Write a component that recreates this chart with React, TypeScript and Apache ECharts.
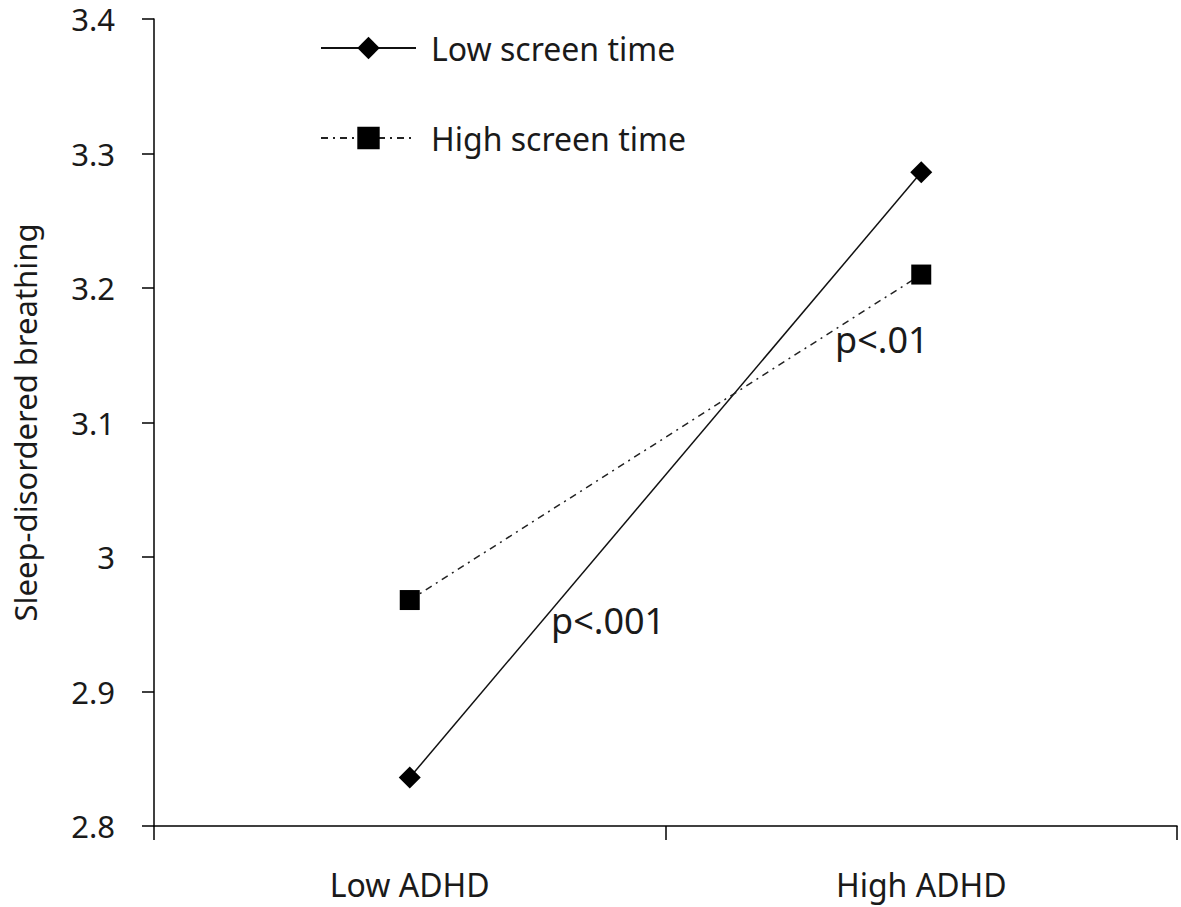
import React, { useEffect, useRef } from "react";
import * as echarts from "echarts";

const categories = ["Low ADHD", "High ADHD"];
const lowScreenTime = [2.836, 3.286];
const highScreenTime = [2.968, 3.21];
const seriesNames = ["Low screen time", "High screen time"];
const yAxisTitle = "Sleep-disordered breathing";
const annotations = [
  { text: "p<.001", x: 551, y: 620 },
  { text: "p<.01", x: 835, y: 339 },
];

const FONT = "'Noto Sans', sans-serif";
const TXT = "#1a1a1a";

export default function App() {
  const ref = useRef<HTMLDivElement>(null);
  useEffect(() => {
    if (!ref.current) return;
    const chart = echarts.init(ref.current, null, { renderer: "svg" });
    chart.setOption({
      animation: false,
      backgroundColor: "#ffffff",
      textStyle: { fontFamily: FONT },
      grid: {
        left: 154,
        right: 4,
        top: 19,
        bottom: 81,
        containLabel: false,
        outerBoundsMode: "none",
      },
      legend: {
        orient: "vertical",
        left: 315,
        top: 23,
        itemWidth: 95,
        itemHeight: 28,
        itemGap: 50,
        data: seriesNames,
        textStyle: {
          fontFamily: FONT,
          fontSize: 32,
          color: TXT,
          lineHeight: 40,
          padding: [0, 0, 0, 10],
        },
      },
      xAxis: {
        type: "category",
        data: categories,
        boundaryGap: true,
        axisLine: { lineStyle: { color: "#000", width: 1.5 } },
        axisTick: { show: true, length: 14, alignWithLabel: false, lineStyle: { color: "#000", width: 1.5 } },
        axisLabel: { fontFamily: FONT, fontSize: 32, color: TXT, margin: 42 },
        splitLine: { show: false },
      },
      yAxis: {
        type: "value",
        min: 2.8,
        max: 3.4,
        interval: 0.1,
        name: yAxisTitle,
        nameLocation: "middle",
        nameRotate: 90,
        nameGap: 114,
        nameTextStyle: { fontFamily: FONT, fontSize: 31, color: TXT },
        axisLine: { show: true, lineStyle: { color: "#000", width: 1.5 } },
        axisTick: { show: true, length: 12, lineStyle: { color: "#000", width: 1.5 } },
        axisLabel: {
          fontFamily: FONT,
          fontSize: 31,
          color: TXT,
          margin: 39,
          lineHeight: 24,
          formatter: (v: number) => String(Math.round(v * 10) / 10),
        },
        splitLine: { show: false },
      },
      series: [
        {
          name: seriesNames[0],
          type: "line",
          data: lowScreenTime,
          symbol: "diamond",
          symbolSize: 22,
          itemStyle: { color: "#000" },
          lineStyle: { color: "#111", width: 1.5, type: "solid" },
        },
        {
          name: seriesNames[1],
          type: "line",
          data: highScreenTime,
          symbol: "rect",
          symbolSize: 20,
          itemStyle: { color: "#000" },
          lineStyle: { color: "#222", width: 1.5, type: [7, 5, 2, 5] },
        },
      ],
      graphic: annotations.map((a) => ({
        type: "text",
        x: a.x,
        y: a.y,
        style: {
          text: a.text,
          fontFamily: FONT,
          fontSize: 36,
          fill: TXT,
          textAlign: "left",
          textVerticalAlign: "middle",
        },
        z: 10,
      })),
    });
    return () => chart.dispose();
  }, []);
  return (
    <div
      ref={ref}
      style={{ position: "absolute", left: 0, top: 0, width: 1181, height: 907 }}
    />
  );
}
